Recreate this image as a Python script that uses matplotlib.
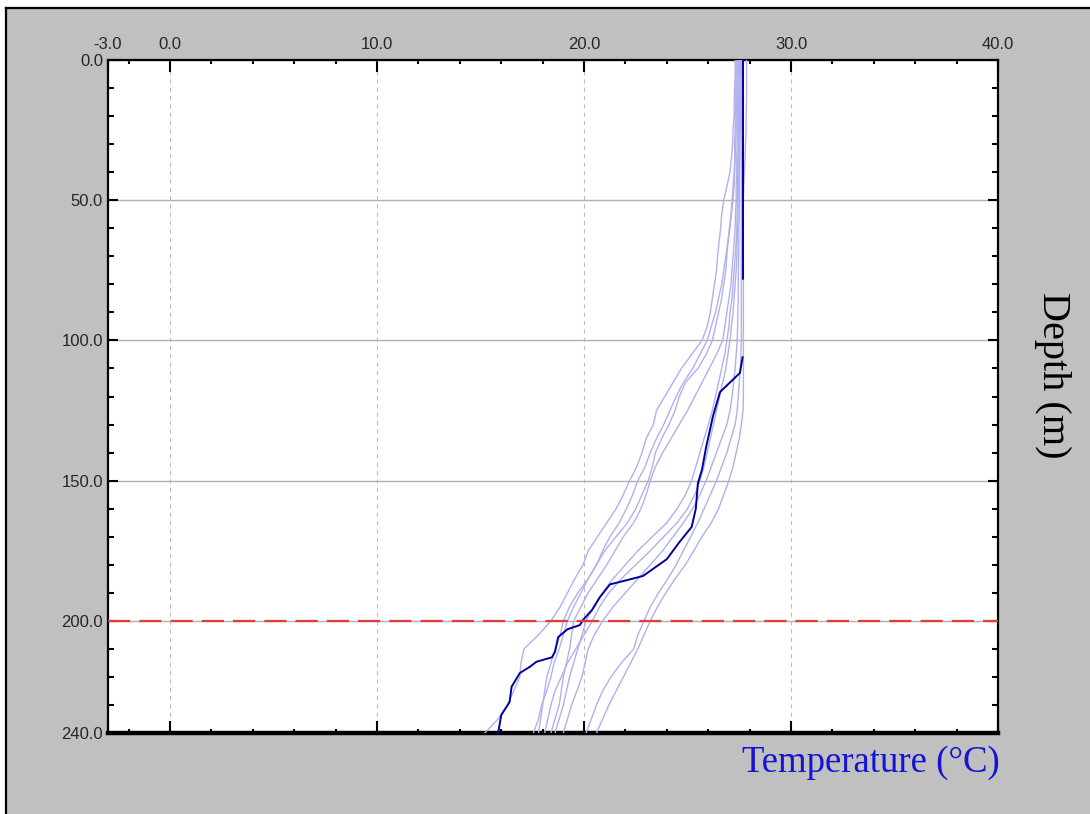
import numpy as np
import matplotlib
matplotlib.use("Agg")
import matplotlib.pyplot as plt
from matplotlib.patches import Rectangle
from matplotlib.lines import Line2D
from matplotlib.ticker import MultipleLocator, FixedLocator

# ---------------- data ----------------
depth_grid = list(range(0, 245, 5))  # 0..240 every 5 m

temp_l1 = [27.30, 27.30, 27.28, 27.25, 27.25, 27.20, 27.18, 27.12, 27.05, 26.90,
           26.75, 26.65, 26.60, 26.52, 26.45, 26.40, 26.30, 26.20, 26.10, 25.95,
           25.70, 25.20, 24.70, 24.30, 23.90, 23.50, 23.35, 23.00, 22.80, 22.55,
           22.20, 21.90, 21.55, 21.10, 20.65, 20.20, 19.95, 19.55, 19.20, 18.85,
           18.40, 17.80, 17.10, 16.95, 16.90, 16.60, 16.30, 15.85, 15.20]
temp_l2 = [27.40, 27.40, 27.38, 27.38, 27.35, 27.35, 27.32, 27.30, 27.28, 27.25,
           27.20, 27.12, 27.05, 26.95, 26.85, 26.75, 26.65, 26.50, 26.35, 26.15,
           25.95, 25.60, 25.25, 24.80, 24.45, 24.15, 23.85, 23.50, 23.20, 22.95,
           22.60, 22.35, 22.05, 21.70, 21.25, 20.90, 20.60, 20.20, 19.85, 19.50,
           19.20, 19.00, 18.80, 18.55, 18.40, 18.20, 17.95, 17.80, 17.55]
temp_l3 = [27.45, 27.45, 27.42, 27.42, 27.40, 27.40, 27.40, 27.38, 27.38, 27.35,
           27.35, 27.32, 27.30, 27.25, 27.20, 27.15, 27.10, 27.00, 26.90, 26.80,
           26.70, 26.40, 26.05, 25.70, 25.35, 25.00, 24.60, 24.20, 23.80, 23.45,
           23.20, 23.00, 22.75, 22.40, 21.90, 21.50, 21.10, 20.65, 20.20, 19.85,
           19.50, 19.40, 19.30, 19.15, 19.00, 18.90, 18.80, 18.60, 18.40]
temp_l4 = [27.50, 27.50, 27.48, 27.48, 27.45, 27.45, 27.45, 27.43, 27.43, 27.42,
           27.40, 27.40, 27.38, 27.35, 27.30, 27.25, 27.20, 27.15, 27.05, 27.00,
           26.90, 26.80, 26.65, 26.50, 26.35, 26.20, 26.00, 25.80, 25.60, 25.40,
           25.20, 24.90, 24.50, 24.00, 23.30, 22.60, 22.00, 21.40, 20.90, 20.45,
           20.10, 19.90, 19.70, 19.50, 19.30, 19.15, 19.00, 18.80, 18.60]
temp_l5 = [27.55, 27.55, 27.52, 27.52, 27.50, 27.50, 27.50, 27.48, 27.48, 27.45,
           27.45, 27.43, 27.42, 27.40, 27.38, 27.35, 27.30, 27.25, 27.20, 27.12,
           27.05, 26.95, 26.85, 26.70, 26.55, 26.40, 26.25, 26.10, 25.95, 25.80,
           25.60, 25.35, 25.00, 24.50, 23.85, 23.20, 22.50, 21.80, 21.20, 20.75,
           20.40, 20.00, 19.60, 19.20, 18.90, 18.60, 18.40, 18.25, 18.10]
temp_l6 = [27.62, 27.62, 27.60, 27.60, 27.60, 27.60, 27.60, 27.60, 27.60, 27.60,
           27.60, 27.60, 27.60, 27.60, 27.60, 27.60, 27.60, 27.60, 27.60, 27.60,
           27.60, 27.58, 27.55, 27.50, 27.45, 27.40, 27.30, 27.10, 26.90, 26.65,
           26.40, 26.10, 25.80, 25.50, 25.15, 24.80, 24.45, 24.05, 23.60, 23.20,
           22.90, 22.60, 22.40, 21.80, 21.30, 20.90, 20.60, 20.35, 20.10]
temp_l7 = [27.85, 27.85, 27.85, 27.85, 27.83, 27.83, 27.80, 27.78, 27.75, 27.72,
           27.70, 27.70, 27.70, 27.70, 27.70, 27.70, 27.70, 27.70, 27.70, 27.70,
           27.70, 27.70, 27.70, 27.70, 27.70, 27.68, 27.60, 27.50, 27.35, 27.20,
           27.00, 26.75, 26.50, 26.15, 25.70, 25.30, 24.90, 24.40, 23.95, 23.55,
           23.20, 22.90, 22.60, 22.25, 21.90, 21.55, 21.20, 20.90, 20.60]
temp_l8 = [27.60, 27.58, 27.58, 27.55, 27.55, 27.55, 27.52, 27.52, 27.50, 27.50,
           27.50, 27.50, 27.48, 27.48, 27.47, 27.46, 27.45, 27.45, 27.43, 27.42,
           27.40, 27.35, 27.30, 27.22, 27.15, 27.05, 26.90, 26.65, 26.40, 26.15,
           25.90, 25.60, 25.25, 24.80, 24.30, 23.80, 23.20, 22.60, 22.00, 21.40,
           20.90, 20.50, 20.20, 20.05, 19.90, 19.65, 19.40, 19.20, 19.00]
temp_l9 = [27.35, 27.35, 27.33, 27.33, 27.30, 27.30, 27.28, 27.28, 27.25, 27.20,
           27.15, 27.10, 27.02, 26.95, 26.90, 26.85, 26.75, 26.65, 26.50, 26.35,
           26.20, 25.90, 25.50, 24.90, 24.60, 24.40, 24.10, 23.75, 23.45, 23.30,
           23.10, 22.80, 22.50, 22.10, 21.55, 21.00, 20.60, 20.20, 19.70, 19.30,
           19.00, 18.85, 18.60, 18.40, 18.20, 18.10, 18.00, 17.90, 17.80]

light_profiles = [temp_l1, temp_l2, temp_l3, temp_l4, temp_l5,
                  temp_l6, temp_l7, temp_l8, temp_l9]

# highlighted profile (gap where no data)
depth_main = [0, 78, 90, 106, 111.6, 115, 118.4, 127, 138, 146, 151, 160, 166.5,
              172, 178, 184, 185.5, 187, 191.5, 196, 199.7, 201.5, 203, 205.8,
              211, 213, 214.6, 216.3, 218.6, 223.5, 229, 233.6, 240]
temp_main = [27.68, 27.68, np.nan, 27.66, 27.53, 27.05, 26.57, 26.23, 25.9, 25.7,
             25.5, 25.4, 25.2, 24.6, 24.0, 22.85, 22.07, 21.25, 20.77, 20.4,
             19.95, 19.8, 19.2, 18.75, 18.6, 18.45, 17.7, 17.4, 16.9, 16.5,
             16.4, 16.0, 15.85]

ref_depth = 200.0

x_major = [-3, 0, 10, 20, 30, 40]
x_major_labels = ["-3.0", "0.0", "10.0", "20.0", "30.0", "40.0"]
y_major = [0, 50, 100, 150, 200, 240]
y_major_labels = ["0.0", "50.0", "100.0", "150.0", "200.0", "240.0"]

x_label = "Temperature (°C)"
y_label = "Depth (m)"

# ---------------- figure ----------------
W, H = 1090, 814
plt.rcParams["lines.scale_dashes"] = False
fig = plt.figure(figsize=(W / 100, H / 100), dpi=100, facecolor="white")

# grey panel with black top/left border
fig.patches.append(Rectangle((6 / W, 0), 1 - 6 / W, 1 - 8 / H, transform=fig.transFigure,
                             facecolor="#C0C0C0", edgecolor="none", zorder=-5))
fig.lines.append(Line2D([6 / W, 1], [1 - 8 / H, 1 - 8 / H], transform=fig.transFigure,
                        color="black", lw=1.6, zorder=-4))
fig.lines.append(Line2D([6 / W, 6 / W], [0, 1 - 8 / H], transform=fig.transFigure,
                        color="black", lw=1.6, zorder=-4))

ax = fig.add_axes([108 / W, 1 - 733 / H, 890 / W, 673 / H])
ax.set_zorder(2)
ax.set_facecolor("white")

for prof in light_profiles:
    ax.plot(prof, depth_grid, color="#B0B0EE", lw=1.0, zorder=3)
ax.plot(temp_main, depth_main, color="#00009C", lw=1.4, zorder=4)

ax.axhline(ref_depth, color="#E03C3C", lw=1.6, dashes=(16, 6.5), zorder=5)

ax.set_xlim(-3, 40)
ax.set_ylim(240, 0)

# grid
ax.xaxis.grid(True, which="major", color="#BDBDBD", lw=0.8, linestyle=(0, (3, 3)))
ax.yaxis.grid(True, which="major", color="#B0B0B0", lw=1.0, linestyle="-")
ax.set_axisbelow(True)

# ticks
ax.xaxis.set_major_locator(FixedLocator(x_major))
ax.xaxis.set_minor_locator(FixedLocator(list(range(-2, 40, 2))))
ax.set_xticklabels(x_major_labels)
ax.yaxis.set_major_locator(FixedLocator(y_major))
ax.yaxis.set_minor_locator(MultipleLocator(10))
ax.set_yticklabels(y_major_labels)

ax.tick_params(axis="x", which="both", direction="in", top=True, bottom=True,
               labeltop=True, labelbottom=False, width=1.5, color="black")
ax.tick_params(axis="x", which="major", length=8.5, pad=6)
ax.tick_params(axis="x", which="minor", length=3)
ax.tick_params(axis="y", which="both", direction="in", left=True, right=True,
               labelleft=True, labelright=False, width=1.5, color="black")
ax.tick_params(axis="y", which="major", length=7.5, pad=3.5)
ax.tick_params(axis="y", which="minor", length=4)

for lab in ax.get_xticklabels() + ax.get_yticklabels():
    lab.set_fontfamily("Liberation Sans")
    lab.set_fontsize(12)
    lab.set_color("#262626")

for side, lw in [("top", 1.6), ("bottom", 3.2), ("left", 1.6), ("right", 1.6)]:
    ax.spines[side].set_linewidth(lw)
    ax.spines[side].set_color("black")

fig.text(1000 / W, 1 - 772 / H, x_label, ha="right", va="baseline",
         fontsize=26.5, family="Liberation Serif", color="#1414D2")
fig.text(1052 / W, 1 - 375 / H, y_label, ha="center", va="center", rotation=270,
         fontsize=29, family="Liberation Serif", color="black")

fig.savefig("out.png", dpi=100, facecolor=fig.get_facecolor())
